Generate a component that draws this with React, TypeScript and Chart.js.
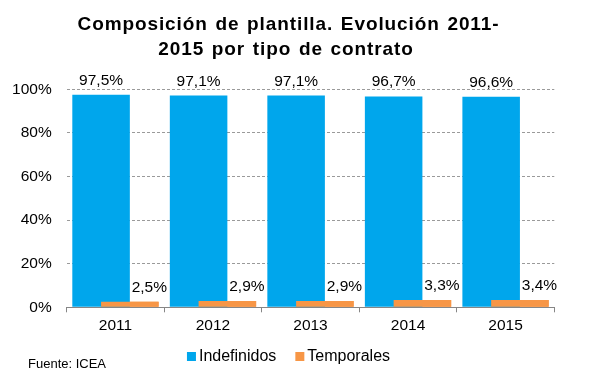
import React, { useEffect, useRef } from "react";
import { Chart, registerables } from "chart.js";

Chart.register(...registerables);

const years = ["2011", "2012", "2013", "2014", "2015"];
const indefinidos = [97.5, 97.1, 97.1, 96.7, 96.6];
const temporales = [2.5, 2.9, 2.9, 3.3, 3.4];
const seriesNames = ["Indefinidos", "Temporales"];
const seriesColors = ["#00A6EC", "#F79646"];
const titleLines = ["Composición de plantilla. Evolución 2011-", "2015 por tipo de contrato"];
const sourceText = "Fuente: ICEA";

const FONT = "'Liberation Sans', Arial, sans-serif";

const fmt = (v: number) => v.toFixed(1).replace(".", ",") + "%";

const overlayPlugin = {
  id: "overlayOrange",
  afterDatasetDraw(chart: any, args: any) {
    if (args.index === 0) {
      const meta = chart.getDatasetMeta(1);
      if (meta && !meta.hidden) meta.controller.draw();
    }
  },
};

const titlePlugin = {
  id: "customTitle",
  afterDraw(chart: any) {
    const ctx = chart.ctx;
    ctx.save();
    ctx.font = `bold 19px ${FONT}`;
    try {
      ctx.letterSpacing = "0.9px";
      ctx.wordSpacing = "1.5px";
    } catch (e) {}
    ctx.fillStyle = "#000";
    ctx.textAlign = "center";
    ctx.textBaseline = "alphabetic";
    const centers = [288.5, 286];
    titleLines.forEach((line, i) => {
      ctx.fillText(line, centers[i] ?? 288, 30 + i * 25);
    });
    ctx.restore();
  },
};

const labelsPlugin = {
  id: "valueLabels",
  afterDatasetsDraw(chart: any) {
    const ctx = chart.ctx;
    ctx.save();
    ctx.font = `15.5px ${FONT}`;
    ctx.fillStyle = "#000";
    ctx.textAlign = "center";
    ctx.textBaseline = "alphabetic";
    chart.data.datasets.forEach((ds: any, i: number) => {
      const meta = chart.getDatasetMeta(i);
      meta.data.forEach((bar: any, j: number) => {
        const x = i === 0 ? bar.x : bar.x + 19.5;
        ctx.fillText(fmt(ds.data[j]), x, bar.y - 10);
      });
    });
    ctx.restore();
  },
};

const legendPlugin = {
  id: "customLegend",
  afterDraw(chart: any) {
    const ctx = chart.ctx;
    ctx.save();
    ctx.font = `16px ${FONT}`;
    ctx.textBaseline = "middle";
    ctx.textAlign = "left";
    const box = 9;
    const gap = 3;
    const itemGap = 19;
    const names = chart.data.datasets.map((d: any) => d.label);
    const widths = names.map((n: string) => box + gap + ctx.measureText(n).width);
    const total = widths.reduce((a: number, b: number) => a + b, 0) + itemGap * (names.length - 1);
    let x = 288.5 - total / 2;
    const y = 356.5;
    names.forEach((n: string, i: number) => {
      ctx.fillStyle = chart.data.datasets[i].backgroundColor;
      ctx.fillRect(x, y - box / 2, box, box);
      ctx.fillStyle = "#000";
      ctx.fillText(n, x + box + gap, y);
      x += widths[i] + itemGap;
    });
    ctx.font = `13px ${FONT}`;
    ctx.fillStyle = "#000";
    ctx.fillText(sourceText, 28, 364);
    ctx.restore();
  },
};

export default function App() {
  const ref = useRef<HTMLCanvasElement | null>(null);

  useEffect(() => {
    if (!ref.current) return;
    Chart.defaults.font.family = FONT;
    const chart = new Chart(ref.current, {
      type: "bar",
      data: {
        labels: years,
        datasets: [
          {
            label: seriesNames[0],
            data: indefinidos,
            backgroundColor: seriesColors[0],
            borderWidth: 0,
          },
          {
            label: seriesNames[1],
            data: temporales,
            backgroundColor: seriesColors[1],
            borderWidth: 0,
          },
        ],
      },
      options: {
        responsive: false,
        animation: false,
        datasets: {
          bar: {
            categoryPercentage: 0.59,
            barPercentage: 2.0,
          },
        },
        layout: {
          padding: { left: 0, right: 42.7, top: 89.3, bottom: 50.7 },
        },
        plugins: {
          legend: { display: false },
          tooltip: { enabled: false },
          title: { display: false },
        },
        scales: {
          x: {
            offset: true,
            grid: {
              offset: true,
              drawOnChartArea: false,
              drawTicks: true,
              tickLength: 5,
              color: "#868686",
            },
            border: { display: true, color: "#868686", width: 1 },
            ticks: {
              color: "#000",
              font: { size: 15.5, family: FONT },
              padding: 4.6,
            },
            afterFit(scale: any) {
              scale.height = 30;
            },
          },
          y: {
            min: 0,
            max: 100,
            ticks: {
              stepSize: 20,
              color: "#000",
              font: { size: 15.5, family: FONT },
              padding: 15,
              callback: (v: any) => v + "%",
            },
            grid: {
              drawTicks: false,
              color: (c: any) => (c.tick && c.tick.value === 0 ? "rgba(0,0,0,0)" : "#9a9a9a"),
            },
            border: { display: false, dash: [3, 2] },
            afterFit(scale: any) {
              scale.width = 66.7;
            },
          },
        },
      },
      plugins: [overlayPlugin, labelsPlugin, titlePlugin, legendPlugin],
    });
    return () => chart.destroy();
  }, []);

  return (
    <div style={{ position: "fixed", left: 0, top: 0, width: 597, height: 388, background: "#fff" }}>
      <canvas ref={ref} width={597} height={388} />
    </div>
  );
}
